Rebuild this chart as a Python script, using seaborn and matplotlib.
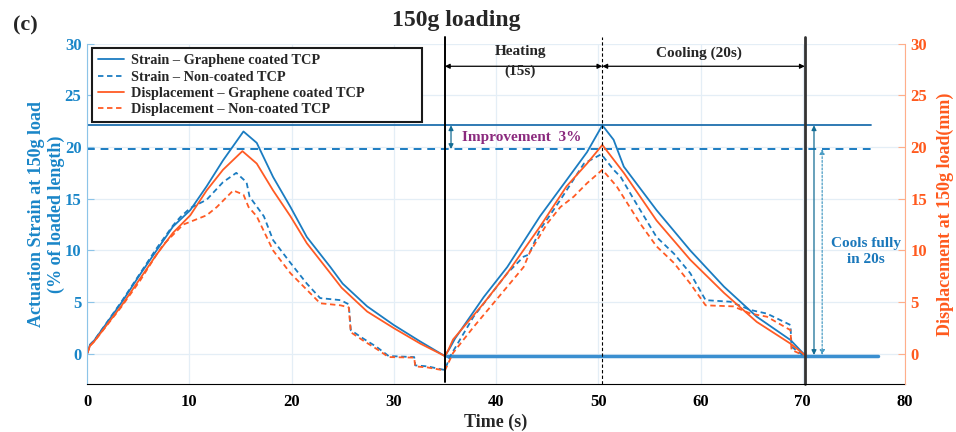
import matplotlib
matplotlib.use("Agg")
import matplotlib.pyplot as plt
import seaborn as sns

# --- data (time in s, values in % / mm) ---
t_strain_gr = [0, 0.3, 0.7, 3.4, 5.2, 6.8, 8.4, 10.1, 11.7, 13.3, 15.3, 16.6, 18.2, 19.9, 21.5, 23.8,
               25.0, 27.4, 30.0, 32.6, 35.0, 35.5, 36.0, 38.8, 41.1, 44.3, 46.9, 48.9, 50.4, 51.5, 52.5,
               55.7, 59.0, 62.3, 65.5, 68.8, 70.2]
strain_gr = [0, 0.9, 1.3, 5.0, 7.7, 10.0, 12.3, 13.9, 16.2, 18.7, 21.5, 20.4, 17.1, 14.2, 11.3, 8.4,
             6.8, 4.6, 2.8, 1.2, -0.2, 0.6, 1.5, 5.5, 8.4, 13.3, 16.8, 19.5, 22.1, 20.7, 18.1,
             13.9, 10.0, 6.5, 3.6, 1.35, -0.1]

t_strain_nc = [0, 0.3, 0.7, 3.4, 5.2, 6.8, 8.4, 9.1, 10.1, 11.7, 13.3, 14.6, 15.6, 15.9, 17.3, 18.2,
               19.9, 21.5, 22.8, 24.8, 25.6, 25.8, 27.0, 28.3, 29.5, 32.0, 32.1, 33.3, 35.0, 35.5,
               37.8, 41.1, 42.7, 43.2, 44.3, 46.3, 48.6, 50.3, 51.5, 52.2, 53.5, 55.7, 57.4, 59.0,
               60.5, 62.9, 64.9, 66.5, 68.8, 68.9, 70.0]
strain_nc = [0, 0.9, 1.3, 5.1, 7.8, 10.2, 12.4, 13.2, 14.1, 14.9, 16.6, 17.5, 16.6, 15.2, 13.3, 11.0,
             8.8, 6.8, 5.4, 5.2, 4.8, 2.3, 1.5, 0.7, -0.2, -0.3, -1.1, -1.2, -1.55, -0.25,
             3.6, 7.8, 9.4, 9.6, 12.0, 14.9, 18.4, 19.3, 17.8, 17.1, 14.9, 11.3, 9.7, 7.8,
             5.2, 5.05, 4.25, 3.9, 2.8, 0.7, -0.1]

t_disp_gr = [0, 0.3, 0.7, 3.4, 5.2, 6.8, 8.4, 10.1, 11.7, 13.3, 15.2, 16.6, 18.2, 19.9, 21.5, 23.8,
             24.9, 27.4, 30.0, 32.6, 35.0, 35.3, 35.8, 38.8, 41.1, 44.3, 46.9, 48.9, 50.4, 52.5,
             55.7, 59.0, 62.3, 65.5, 68.8, 70.2]
disp_gr = [0, 0.8, 1.2, 4.7, 7.3, 9.6, 11.7, 13.4, 15.8, 17.8, 19.6, 18.4, 15.8, 13.3, 10.7, 7.8,
           6.4, 4.1, 2.5, 1.0, -0.2, 0.3, 1.4, 4.9, 7.8, 12.3, 16.2, 18.4, 20.2, 17.5,
           12.9, 9.1, 5.9, 3.1, 1.0, -0.1]

t_disp_nc = [0, 0.3, 0.7, 3.4, 5.2, 6.8, 7.5, 9.4, 11.7, 12.7, 14.3, 15.3, 15.8, 16.6, 18.2, 19.9,
             21.5, 22.8, 24.8, 25.6, 25.8, 27.0, 28.3, 29.5, 32.0, 32.1, 33.3, 35.0, 35.8, 37.8,
             41.1, 42.7, 43.3, 45.0, 46.3, 47.6, 48.9, 50.4, 51.8, 54.1, 55.7, 57.4, 59.0, 60.5,
             63.2, 64.9, 66.5, 68.8, 68.9, 70.0]
disp_nc = [0, 0.8, 1.2, 4.6, 7.1, 9.6, 10.6, 12.5, 13.4, 14.2, 15.8, 15.4, 14.2, 13.3, 10.0, 7.8,
           6.2, 4.9, 4.7, 4.5, 2.1, 1.3, 0.5, -0.3, -0.35, -1.2, -1.3, -1.6, 0.1, 2.6,
           6.5, 8.4, 9.8, 12.6, 14.2, 15.2, 16.5, 17.8, 16.2, 12.6, 10.4, 8.8, 6.8, 4.7,
           4.6, 3.9, 3.6, 2.3, 0.4, -0.1]

labels = ["Strain \u2013 Graphene coated TCP", "Strain \u2013 Non-coated TCP",
          "Displacement \u2013 Graphene coated TCP", "Displacement \u2013 Non-coated TCP"]

peak_coated = 22.1
peak_noncoated = 19.8
t_heat_start, t_peak, t_cool_end = 35.0, 50.4, 70.2

BLUE = "#1b7cc1"
ORANGE = "#ff5b24"

sns.set_style("white")
plt.rcParams["font.family"] = ["Liberation Serif", "DejaVu Serif"]
plt.rcParams["font.weight"] = "bold"

fig = plt.figure(figsize=(9.56, 4.32), dpi=100)
ax = fig.add_axes([87 / 956, 1 - 384.3 / 432, 818 / 956, 340.8 / 432])

dash = (0, (3, 2))
sns.lineplot(x=t_strain_gr, y=strain_gr, ax=ax, color=BLUE, lw=1.3, label=labels[0],
             sort=False, estimator=None)
sns.lineplot(x=t_strain_nc, y=strain_nc, ax=ax, color=BLUE, lw=1.3, linestyle=dash,
             label=labels[1], sort=False, estimator=None)
sns.lineplot(x=t_disp_gr, y=disp_gr, ax=ax, color=ORANGE, lw=1.3, label=labels[2],
             sort=False, estimator=None)
sns.lineplot(x=t_disp_nc, y=disp_nc, ax=ax, color=ORANGE, lw=1.3, linestyle=dash,
             label=labels[3], sort=False, estimator=None)

# reference lines
ax.plot([0, 76.7], [peak_coated] * 2, color="#1f6fae", lw=1.3, zorder=1)
ax.plot([0, 76.7], [peak_noncoated] * 2, color=BLUE, lw=1.4, ls=(0, (4, 3)), zorder=1)
ax.plot([35.2, 77.4], [-0.2, -0.2], color="#3a8fd0", lw=2.5, zorder=1)
ax.plot([t_heat_start] * 2, [-2.7, 30.6], color="black", lw=1.4, clip_on=False)
ax.plot([t_cool_end] * 2, [-2.9, 30.6], color="#333333", lw=2.0, clip_on=False)
ax.plot([t_peak] * 2, [-2.9, 30.6], color="black", lw=0.8, ls=(0, (3, 2)), clip_on=False)

# heating / cooling arrows
arr = dict(arrowstyle="<|-|>", color="black", lw=0.9, mutation_scale=7, shrinkA=0, shrinkB=0)
ax.annotate("", xy=(t_heat_start, 27.8), xytext=(t_peak, 27.8), arrowprops=arr)
ax.annotate("", xy=(t_peak, 27.8), xytext=(t_cool_end, 27.8), arrowprops=arr)
ax.text(42.4, 29.2, "Heating", ha="center", va="center", fontsize=11, fontweight="bold")
ax.text(42.4, 27.3, "(15s)", ha="center", va="center", fontsize=11, fontweight="bold")
ax.text(59.8, 29.05, "Cooling (20s)", ha="center", va="center", fontsize=11, fontweight="bold")

# improvement
teal = "#136c94"
ax.annotate("", xy=(35.6, peak_coated), xytext=(35.6, peak_noncoated),
            arrowprops=dict(arrowstyle="<|-|>", color=teal, lw=0.9, mutation_scale=7,
                            shrinkA=0, shrinkB=0))
ax.text(36.7, 20.9, "Improvement  3%", color="#8b2a7e", fontsize=11, fontweight="bold",
        ha="left", va="center")

# cools fully
ax.annotate("", xy=(71.1, peak_coated), xytext=(71.1, -0.1),
            arrowprops=dict(arrowstyle="<|-|>", color=teal, lw=0.9, mutation_scale=7,
                            shrinkA=0, shrinkB=0))
ax.annotate("", xy=(71.9, peak_noncoated), xytext=(71.9, -0.1),
            arrowprops=dict(arrowstyle="<|-|>", color="#4a9cc4", lw=0.9, ls=(0, (1.5, 1.5)),
                            mutation_scale=7, shrinkA=0, shrinkB=0))
ax.text(76.2, 9.9, "Cools fully\nin 20s", color="#1a78bb", fontsize=11, fontweight="bold",
        ha="center", va="center", linespacing=1.25, zorder=5)

# axes styling
ax.set_xlim(0, 80)
ax.set_ylim(-2.93, 30)
ax.set_xticks(range(0, 81, 10))
ax.set_yticks(range(0, 31, 5))
ax.grid(True, color="#e4eef6", lw=0.9)
ax.set_axisbelow(True)
for s in ["top", "right"]:
    ax.spines[s].set_visible(False)
ax.spines["left"].set_color("#8cc4e8")
ax.spines["bottom"].set_color("black")
ax.tick_params(axis="x", direction="in", length=5, colors="black", labelsize=12, pad=7)
ax.tick_params(axis="y", direction="in", length=5, color="#8cc4e8", labelcolor="#1a86c8",
               labelsize=12, pad=4)
for lab in ax.get_xticklabels() + ax.get_yticklabels():
    lab.set_fontweight("bold")

ax.set_xlabel("Time (s)", fontsize=13, fontweight="bold")
ax.xaxis.set_label_coords(0.499, -0.086)
ax.set_ylabel("Actuation Strain at 150g load\n(% of loaded length)", fontsize=13,
              fontweight="bold", color="#1a86c8")
ax.yaxis.set_label_coords(-0.027, 0.5)

ax2 = ax.twinx()
ax2.set_ylim(ax.get_ylim())
ax2.set_yticks(range(0, 31, 5))
for s in ["top", "left", "bottom"]:
    ax2.spines[s].set_visible(False)
ax2.spines["right"].set_color("#ffae8a")
ax2.tick_params(axis="y", direction="in", length=5, color="#ffae8a", labelcolor="#ff5a1e",
                labelsize=12, pad=4)
for lab in ax2.get_yticklabels():
    lab.set_fontweight("bold")
ax2.set_ylabel("Displacement at 150g load(mm)", fontsize=13, fontweight="bold", color="#ff5a1e")
ax2.yaxis.set_label_coords(1.039, 0.5)

leg = ax.legend(loc="upper left", bbox_to_anchor=(92 / 956, 1 - 123 / 432, 330 / 956, 75 / 432),
                bbox_transform=fig.transFigure, mode="expand", borderaxespad=0, frameon=True,
                fancybox=False, edgecolor="#1a1a1a", framealpha=1, handlelength=1.8,
                handletextpad=0.5, borderpad=0.45, labelspacing=0.22,
                prop=dict(weight="bold", size=10.3))
leg.get_frame().set_linewidth(1.5)
leg.set_zorder(10)

fig.text(0.477, 0.952, "150g loading", ha="center", va="center", fontsize=17, fontweight="bold")
fig.text(0.014, 0.942, "(c)", ha="left", va="center", fontsize=16, fontweight="bold")

fig.savefig("out.png", dpi=100)
plt.close(fig)
